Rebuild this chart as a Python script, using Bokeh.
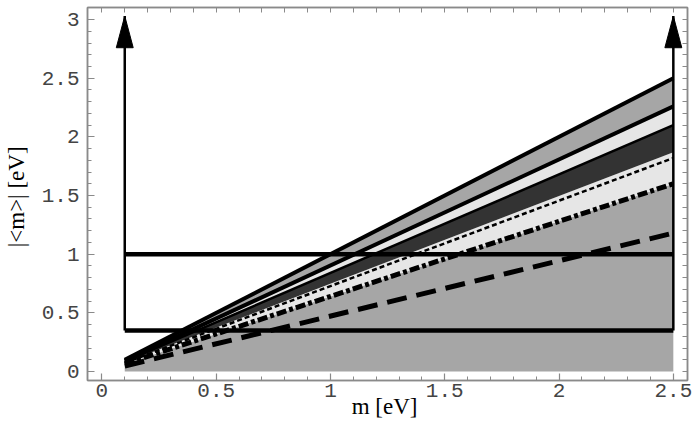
from bokeh.plotting import figure
from bokeh.models import FixedTicker, LinearAxis, Range1d
from bokeh.embed import file_html
from bokeh.resources import INLINE

# ---- data ----
m_ends = [0.1, 2.5]              # lightest mass range [eV]
line_a = [0.100, 2.50]           # top solid line
line_b = [0.090, 2.26]           # second solid line
band_c = [0.084, 2.10]           # top of dark band
band_d = [0.075, 1.87]           # bottom of dark band
dotted_e = [0.073, 1.82]         # thin dotted line
dotdash_f = [0.064, 1.60]        # thick dot-dashed line (top of lower gray)
dashed_g = [0.047, 1.18]         # thick dashed line
zero_base = [0.0, 0.0]
h_levels = [1.0, 0.35]           # horizontal bounds
arrow_x = [0.1, 2.5]
arrow_y0 = [0.35, 0.35]
arrow_y1 = [3.03, 3.03]

x_ticks = [0, 0.5, 1, 1.5, 2, 2.5]
x_tick_labels = ["0", "0.5", "1", "1.5", "2", "2.5"]
y_ticks = [0, 0.5, 1, 1.5, 2, 2.5, 3]
y_tick_labels = ["0", "0.5", "1", "1.5", "2", "2.5", "3"]

# ---- styles ----
GRAY = "#a6a6a6"
LIGHT = "#e6e6e6"
DARK = "#333333"
FRAME = "#8a8a8a"
HEAD_LEN = 0.27      # arrow head length (data units)
HEAD_HALF = 0.037    # arrow head half width (data units)
MINOR = [round(i * 0.1, 2) for i in range(-1, 33)]

p = figure(width=695, height=436, output_backend="svg", toolbar_location=None,
           x_range=Range1d(-0.063, 2.562), y_range=Range1d(-0.077, 3.103),
           min_border_left=83, min_border_right=8, min_border_top=7,
           min_border_bottom=56)
p.xgrid.visible = False
p.ygrid.visible = False
p.outline_line_color = FRAME
p.outline_line_width = 1.5
p.background_fill_color = "white"

# fills
p.varea(x=m_ends, y1=zero_base, y2=dotdash_f, fill_color=GRAY)
p.varea(x=m_ends, y1=dotdash_f, y2=band_d, fill_color=LIGHT)
p.varea(x=m_ends, y1=band_d, y2=band_c, fill_color=DARK)
p.varea(x=m_ends, y1=band_c, y2=line_b, fill_color=LIGHT)
p.varea(x=m_ends, y1=line_b, y2=line_a, fill_color=GRAY)

# lines
p.line(m_ends, dashed_g, line_color="black", line_width=5, line_dash="20 10")
p.line(m_ends, dotdash_f, line_color="black", line_width=5, line_dash="10 3 4 3")
p.line(m_ends, dotted_e, line_color="black", line_width=2.5, line_dash="5 3")
p.line(m_ends, band_c, line_color="black", line_width=2.5)
p.line(m_ends, line_b, line_color="black", line_width=4)
p.line(m_ends, line_a, line_color="black", line_width=4)

for h in h_levels:
    p.line(m_ends, [h, h], line_color="black", line_width=4.5)

# vertical arrows
p.segment(x0=arrow_x, y0=arrow_y0, x1=arrow_x, y1=arrow_y1,
          line_color="black", line_width=2.5)
head_xs = [[x - HEAD_HALF, x, x + HEAD_HALF] for x in arrow_x]
head_ys = [[y - HEAD_LEN, y, y - HEAD_LEN] for y in arrow_y1]
p.patches(head_xs, head_ys, fill_color="black", line_color="black", line_width=1)


def base_style(ax):
    ax.axis_line_color = FRAME
    ax.axis_line_width = 1.5
    ax.major_tick_line_color = FRAME
    ax.minor_tick_line_color = FRAME
    ax.major_tick_line_width = 1.2
    ax.minor_tick_line_width = 1
    ax.major_tick_in = 7
    ax.major_tick_out = 0
    ax.minor_tick_in = 4
    ax.minor_tick_out = 0


def style_axis(ax, ticks, labels):
    ax.ticker = FixedTicker(ticks=ticks, minor_ticks=MINOR)
    ax.major_label_overrides = {t: l for t, l in zip(ticks, labels)}
    base_style(ax)
    ax.major_label_text_font = "Liberation Mono"
    ax.major_label_text_font_size = "21px"
    ax.major_label_text_color = "#444444"
    ax.axis_label_text_font = "Liberation Serif"
    ax.axis_label_text_font_style = "normal"
    ax.axis_label_text_color = "black"


style_axis(p.xaxis[0], x_ticks, x_tick_labels)
style_axis(p.yaxis[0], y_ticks, y_tick_labels)
p.xaxis[0].axis_label = "m  [eV]"
p.xaxis[0].axis_label_text_font_size = "23px"
p.xaxis[0].major_label_standoff = 3
p.xaxis[0].axis_label_standoff = -6
p.yaxis[0].axis_label = "|<m>|  [eV]"
p.yaxis[0].axis_label_text_font_size = "23px"
p.yaxis[0].major_label_standoff = 8
p.yaxis[0].axis_label_standoff = 10

# frame ticks on top and right (tick marks only)
top_ax = LinearAxis()
right_ax = LinearAxis()
for ax in (top_ax, right_ax):
    ax.ticker = FixedTicker(ticks=[], minor_ticks=MINOR)
    base_style(ax)
    ax.minor_tick_in = 5
    ax.major_label_standoff = 0
p.add_layout(top_ax, "above")
p.add_layout(right_ax, "right")

open("out.html", "w").write(file_html(p, INLINE))
